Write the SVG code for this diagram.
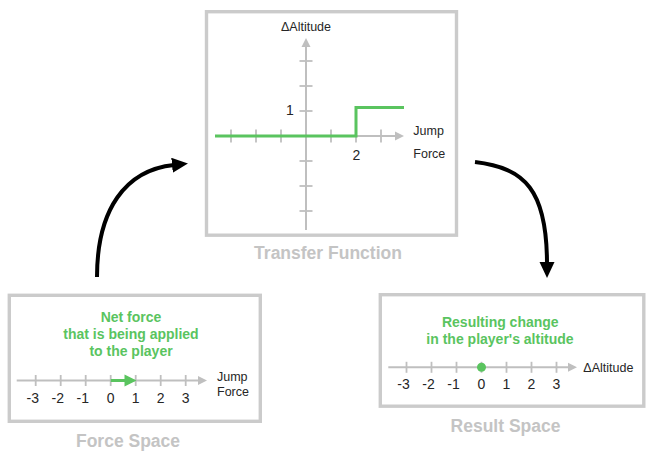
<svg xmlns="http://www.w3.org/2000/svg" width="654" height="456" viewBox="0 0 654 456">
<style>
.box{fill:#fff;stroke:#cbcbcb;stroke-width:3.4}
.axis{stroke:#bfbfbf;stroke-width:2;fill:none}
.tick{stroke:#bfbfbf;stroke-width:1.8}
.ah{fill:#bfbfbf}
.g{fill:none;stroke:#5ac45f;stroke-width:3}
.num{font-family:"Liberation Sans",Arial,sans-serif;font-size:14px;fill:#262626;text-anchor:middle}
.lbl{font-family:"Liberation Sans",Arial,sans-serif;font-size:12.5px;fill:#262626}
.title{font-family:"Liberation Sans",Arial,sans-serif;font-size:17.5px;font-weight:bold;fill:#c4c4c4;text-anchor:middle}
.gt{font-family:"Liberation Sans",Arial,sans-serif;font-size:14px;font-weight:bold;fill:#5ac45f;text-anchor:middle}
.conn{fill:none;stroke:#000;stroke-width:4}
</style>
<defs>
<marker id="head" markerUnits="userSpaceOnUse" markerWidth="18" markerHeight="16" refX="2" refY="7.5" orient="auto">
<path d="M0,0 L16,7.5 L0,15 z" fill="#000"/>
</marker>
</defs>

<g id="node-transfer">
<rect class="box" x="206.5" y="11.7" width="250" height="223.5"/>
<line class="axis" x1="306" y1="46" x2="306" y2="230"/>
<polygon class="ah" points="306,38 301.5,47 310.5,47"/>
<line class="axis" x1="215" y1="136" x2="396" y2="136"/>
<polygon class="ah" points="404,136 395,131.5 395,140.5"/>
<g class="tick">
<line x1="231" y1="129.5" x2="231" y2="142.5"/>
<line x1="256" y1="129.5" x2="256" y2="142.5"/>
<line x1="281" y1="129.5" x2="281" y2="142.5"/>
<line x1="331" y1="129.5" x2="331" y2="142.5"/>
<line x1="356" y1="129.5" x2="356" y2="142.5"/>
<line x1="381" y1="129.5" x2="381" y2="142.5"/>
<line x1="299.5" y1="61" x2="312.5" y2="61"/>
<line x1="299.5" y1="86" x2="312.5" y2="86"/>
<line x1="299.5" y1="111" x2="312.5" y2="111"/>
<line x1="299.5" y1="161" x2="312.5" y2="161"/>
<line x1="299.5" y1="186" x2="312.5" y2="186"/>
<line x1="299.5" y1="211" x2="312.5" y2="211"/>
</g>
<polyline class="g" points="215,136 356,136 356,107.5 404,107.5"/>
<text class="lbl" x="306" y="30.5" text-anchor="middle">ΔAltitude</text>
<text class="num" x="290" y="114.5">1</text>
<text class="num" x="356.5" y="159.5">2</text>
<text class="lbl" x="413.3" y="135">Jump</text>
<text class="lbl" x="413.3" y="158.3">Force</text>
<text class="title" x="328" y="259.3">Transfer Function</text>
</g>

<g id="node-force">
<rect class="box" x="9.3" y="295.3" width="251" height="126"/>
<text class="gt" x="131" y="321.7">Net force</text>
<text class="gt" x="131" y="338.8">that is being applied</text>
<text class="gt" x="131" y="356">to the player</text>
<line class="axis" x1="16.7" y1="380.5" x2="199" y2="380.5"/>
<polygon class="ah" points="207,380.5 198,376 198,385"/>
<g class="tick">
<line x1="35.7" y1="375" x2="35.7" y2="386"/>
<line x1="60.7" y1="375" x2="60.7" y2="386"/>
<line x1="85.7" y1="375" x2="85.7" y2="386"/>
<line x1="110.7" y1="375" x2="110.7" y2="386"/>
<line x1="135.7" y1="375" x2="135.7" y2="386"/>
<line x1="160.7" y1="375" x2="160.7" y2="386"/>
<line x1="185.7" y1="375" x2="185.7" y2="386"/>
</g>
<line class="g" x1="110.7" y1="380.5" x2="126" y2="380.5"/>
<polygon points="136.5,380.5 124.5,374.5 124.5,386.5" fill="#5ac45f"/>
<text class="num" x="32.7" y="403.3">-3</text>
<text class="num" x="57.7" y="403.3">-2</text>
<text class="num" x="82.7" y="403.3">-1</text>
<text class="num" x="110.7" y="403.3">0</text>
<text class="num" x="135.7" y="403.3">1</text>
<text class="num" x="160.7" y="403.3">2</text>
<text class="num" x="185.7" y="403.3">3</text>
<text class="lbl" x="217" y="381">Jump</text>
<text class="lbl" x="217" y="395.7">Force</text>
<text class="title" x="128" y="446.7">Force Space</text>
</g>

<g id="node-result">
<rect class="box" x="380.3" y="294.7" width="263.5" height="111.5"/>
<text class="gt" x="500.3" y="326.7">Resulting change</text>
<text class="gt" x="500" y="343.5">in the player's altitude</text>
<line class="axis" x1="388.3" y1="367.3" x2="569" y2="367.3"/>
<polygon class="ah" points="577,367.3 568,362.8 568,371.8"/>
<g class="tick">
<line x1="406.5" y1="361.8" x2="406.5" y2="372.8"/>
<line x1="431.5" y1="361.8" x2="431.5" y2="372.8"/>
<line x1="456.5" y1="361.8" x2="456.5" y2="372.8"/>
<line x1="481.5" y1="361.8" x2="481.5" y2="372.8"/>
<line x1="506.5" y1="361.8" x2="506.5" y2="372.8"/>
<line x1="531.5" y1="361.8" x2="531.5" y2="372.8"/>
<line x1="556.5" y1="361.8" x2="556.5" y2="372.8"/>
</g>
<circle cx="481.5" cy="367.3" r="4.5" fill="#5ac45f"/>
<text class="num" x="403.5" y="389.3">-3</text>
<text class="num" x="428.5" y="389.3">-2</text>
<text class="num" x="453.5" y="389.3">-1</text>
<text class="num" x="481.5" y="389.3">0</text>
<text class="num" x="506.5" y="389.3">1</text>
<text class="num" x="531.5" y="389.3">2</text>
<text class="num" x="556.5" y="389.3">3</text>
<text class="lbl" x="583.3" y="371.7">ΔAltitude</text>
<text class="title" x="505.5" y="431.7">Result Space</text>
</g>

<g id="connectors">
<path class="conn" d="M97,277 C97,210 125,170 174,165" marker-end="url(#head)"/>
<path class="conn" d="M475,162 C525,168 547,190 547,264" marker-end="url(#head)"/>
</g>
</svg>
